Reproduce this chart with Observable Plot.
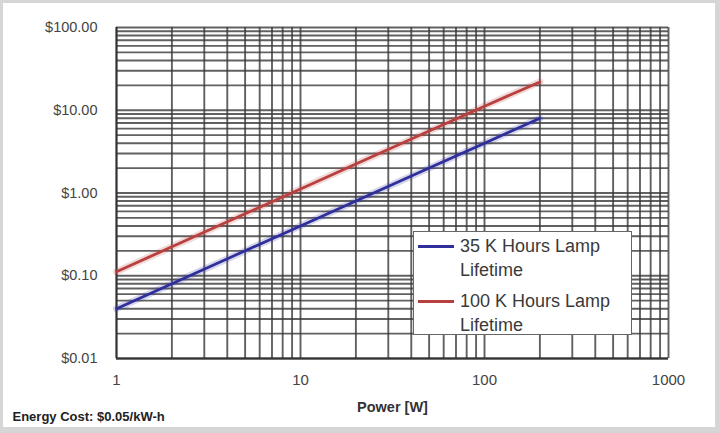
<!DOCTYPE html>
<html>
<head>
<meta charset="utf-8">
<script src="https://cdn.jsdelivr.net/npm/d3@7"></script>
<script src="https://cdn.jsdelivr.net/npm/@observablehq/plot@0.6"></script>
<style>
  html, body { margin: 0; padding: 0; background: #fff; }
  #wrap { position: relative; width: 720px; height: 433px; overflow: hidden; font-family: "Liberation Sans", Arial, sans-serif; }
  #frame { position: absolute; left: 0; top: 0; width: 720px; height: 433px; box-sizing: border-box;
           border-style: solid; border-color: #d6d6d6; border-width: 3px 5px 6px 3px; pointer-events: none; }
  #legend { position: absolute; left: 413px; top: 231px; width: 219px; height: 104px; box-sizing: border-box;
            background: #fff; border: 1px solid #666; font-size: 18px; color: #3a3a3a; }
  .item { position: absolute; left: 46px; line-height: 24px; }
  .swatch { position: absolute; left: 4px; width: 36px; height: 3px; }
  svg g[aria-label="rule"] { filter: blur(0.6px); }
  svg g[aria-label="line"] { filter: blur(0.4px); }
</style>
</head>
<body>
<div id="wrap"></div>
<script>
// Data
const power = [1, 2, 5, 10, 20, 50, 100, 200];
const cost35k = [0.04, 0.08, 0.2, 0.4, 0.8, 2.0, 4.0, 8.0];
const cost100k = [0.112, 0.224, 0.56, 1.12, 2.24, 5.6, 11.2, 22.0];
const seriesNames = ["35 K Hours Lamp Lifetime", "100 K Hours Lamp Lifetime"];
const seriesColors = ["#2f2f9c", "#b8403f"];
const xTicks = [1, 10, 100, 1000];
const yTicks = [0.01, 0.1, 1, 10, 100];
const xLabel = "Power [W]";
const footer = "Energy Cost: $0.05/kW-h";

// gridline positions (1..9 multiples of each decade)
const minor = (decades) => decades.slice(0, -1).flatMap(d => d3.range(1, 10).map(k => +(d * k).toPrecision(3))).concat([decades[decades.length - 1]]);
const xGrid = minor(xTicks);
const yGrid = minor(yTicks);

const rows = [];
power.forEach((p, i) => {
  rows.push({power: p, cost: cost35k[i], series: seriesNames[0]});
  rows.push({power: p, cost: cost100k[i], series: seriesNames[1]});
});

const chart = Plot.plot({
  width: 720,
  height: 433,
  marginLeft: 116,
  marginRight: 52,
  marginTop: 27,
  marginBottom: 75,
  style: {fontFamily: "'Liberation Sans', Arial, sans-serif", background: "transparent", overflow: "visible"},
  x: {type: "log", domain: [1, 1000]},
  y: {type: "log", domain: [0.01, 100]},
  color: {domain: seriesNames, range: seriesColors},
  marks: [
    Plot.ruleX(xGrid, {x: d => d, stroke: "#3a3a3a", strokeWidth: 1.9, strokeOpacity: 0.8}),
    Plot.ruleY(yGrid, {y: d => d, stroke: "#3a3a3a", strokeWidth: 1.9, strokeOpacity: 0.8}),
    Plot.ruleX([1], {stroke: "#333", strokeWidth: 1.8}),
    Plot.ruleY([0.01], {stroke: "#333", strokeWidth: 1.8}),
    Plot.line(rows, {x: "power", y: "cost", z: "series", stroke: "series", strokeWidth: 7, strokeOpacity: 0.2}),
    Plot.line(rows, {x: "power", y: "cost", z: "series", stroke: "series", strokeWidth: 2.8}),
    Plot.axisX({ticks: xTicks, tickFormat: d => String(d), tickSize: 0, tickPadding: 16, fontSize: 15, fill: "#444", label: null}),
    Plot.axisY({ticks: yTicks, tickFormat: d => "$" + d.toFixed(2), tickSize: 0, tickPadding: 19, fontSize: 14.5, fill: "#444", label: null}),
    Plot.text([xLabel], {text: d => d, frameAnchor: "bottom", dy: 53, fontSize: 14.5, fontWeight: "bold", fill: "#333"}),
    Plot.text([footer], {text: d => d, frameAnchor: "bottom-left", dx: -104, dy: 62, textAnchor: "start", fontSize: 13, fontWeight: "bold", fill: "#222"})
  ]
});

const wrap = document.getElementById("wrap");
wrap.appendChild(chart);

// legend
const legend = document.createElement("div");
legend.id = "legend";
const lines = [["35 K Hours Lamp", "Lifetime"], ["100 K Hours Lamp", "Lifetime"]];
seriesNames.forEach((name, i) => {
  const top = 2 + i * 55;
  const sw = document.createElement("div");
  sw.className = "swatch";
  sw.style.top = (top + 11) + "px";
  sw.style.background = seriesColors[i];
  legend.appendChild(sw);
  lines[i].forEach((t, j) => {
    const el = document.createElement("div");
    el.className = "item";
    el.style.top = (top + j * 24) + "px";
    el.textContent = t;
    legend.appendChild(el);
  });
});
wrap.appendChild(legend);

const frame = document.createElement("div");
frame.id = "frame";
wrap.appendChild(frame);
</script>
</body>
</html>
